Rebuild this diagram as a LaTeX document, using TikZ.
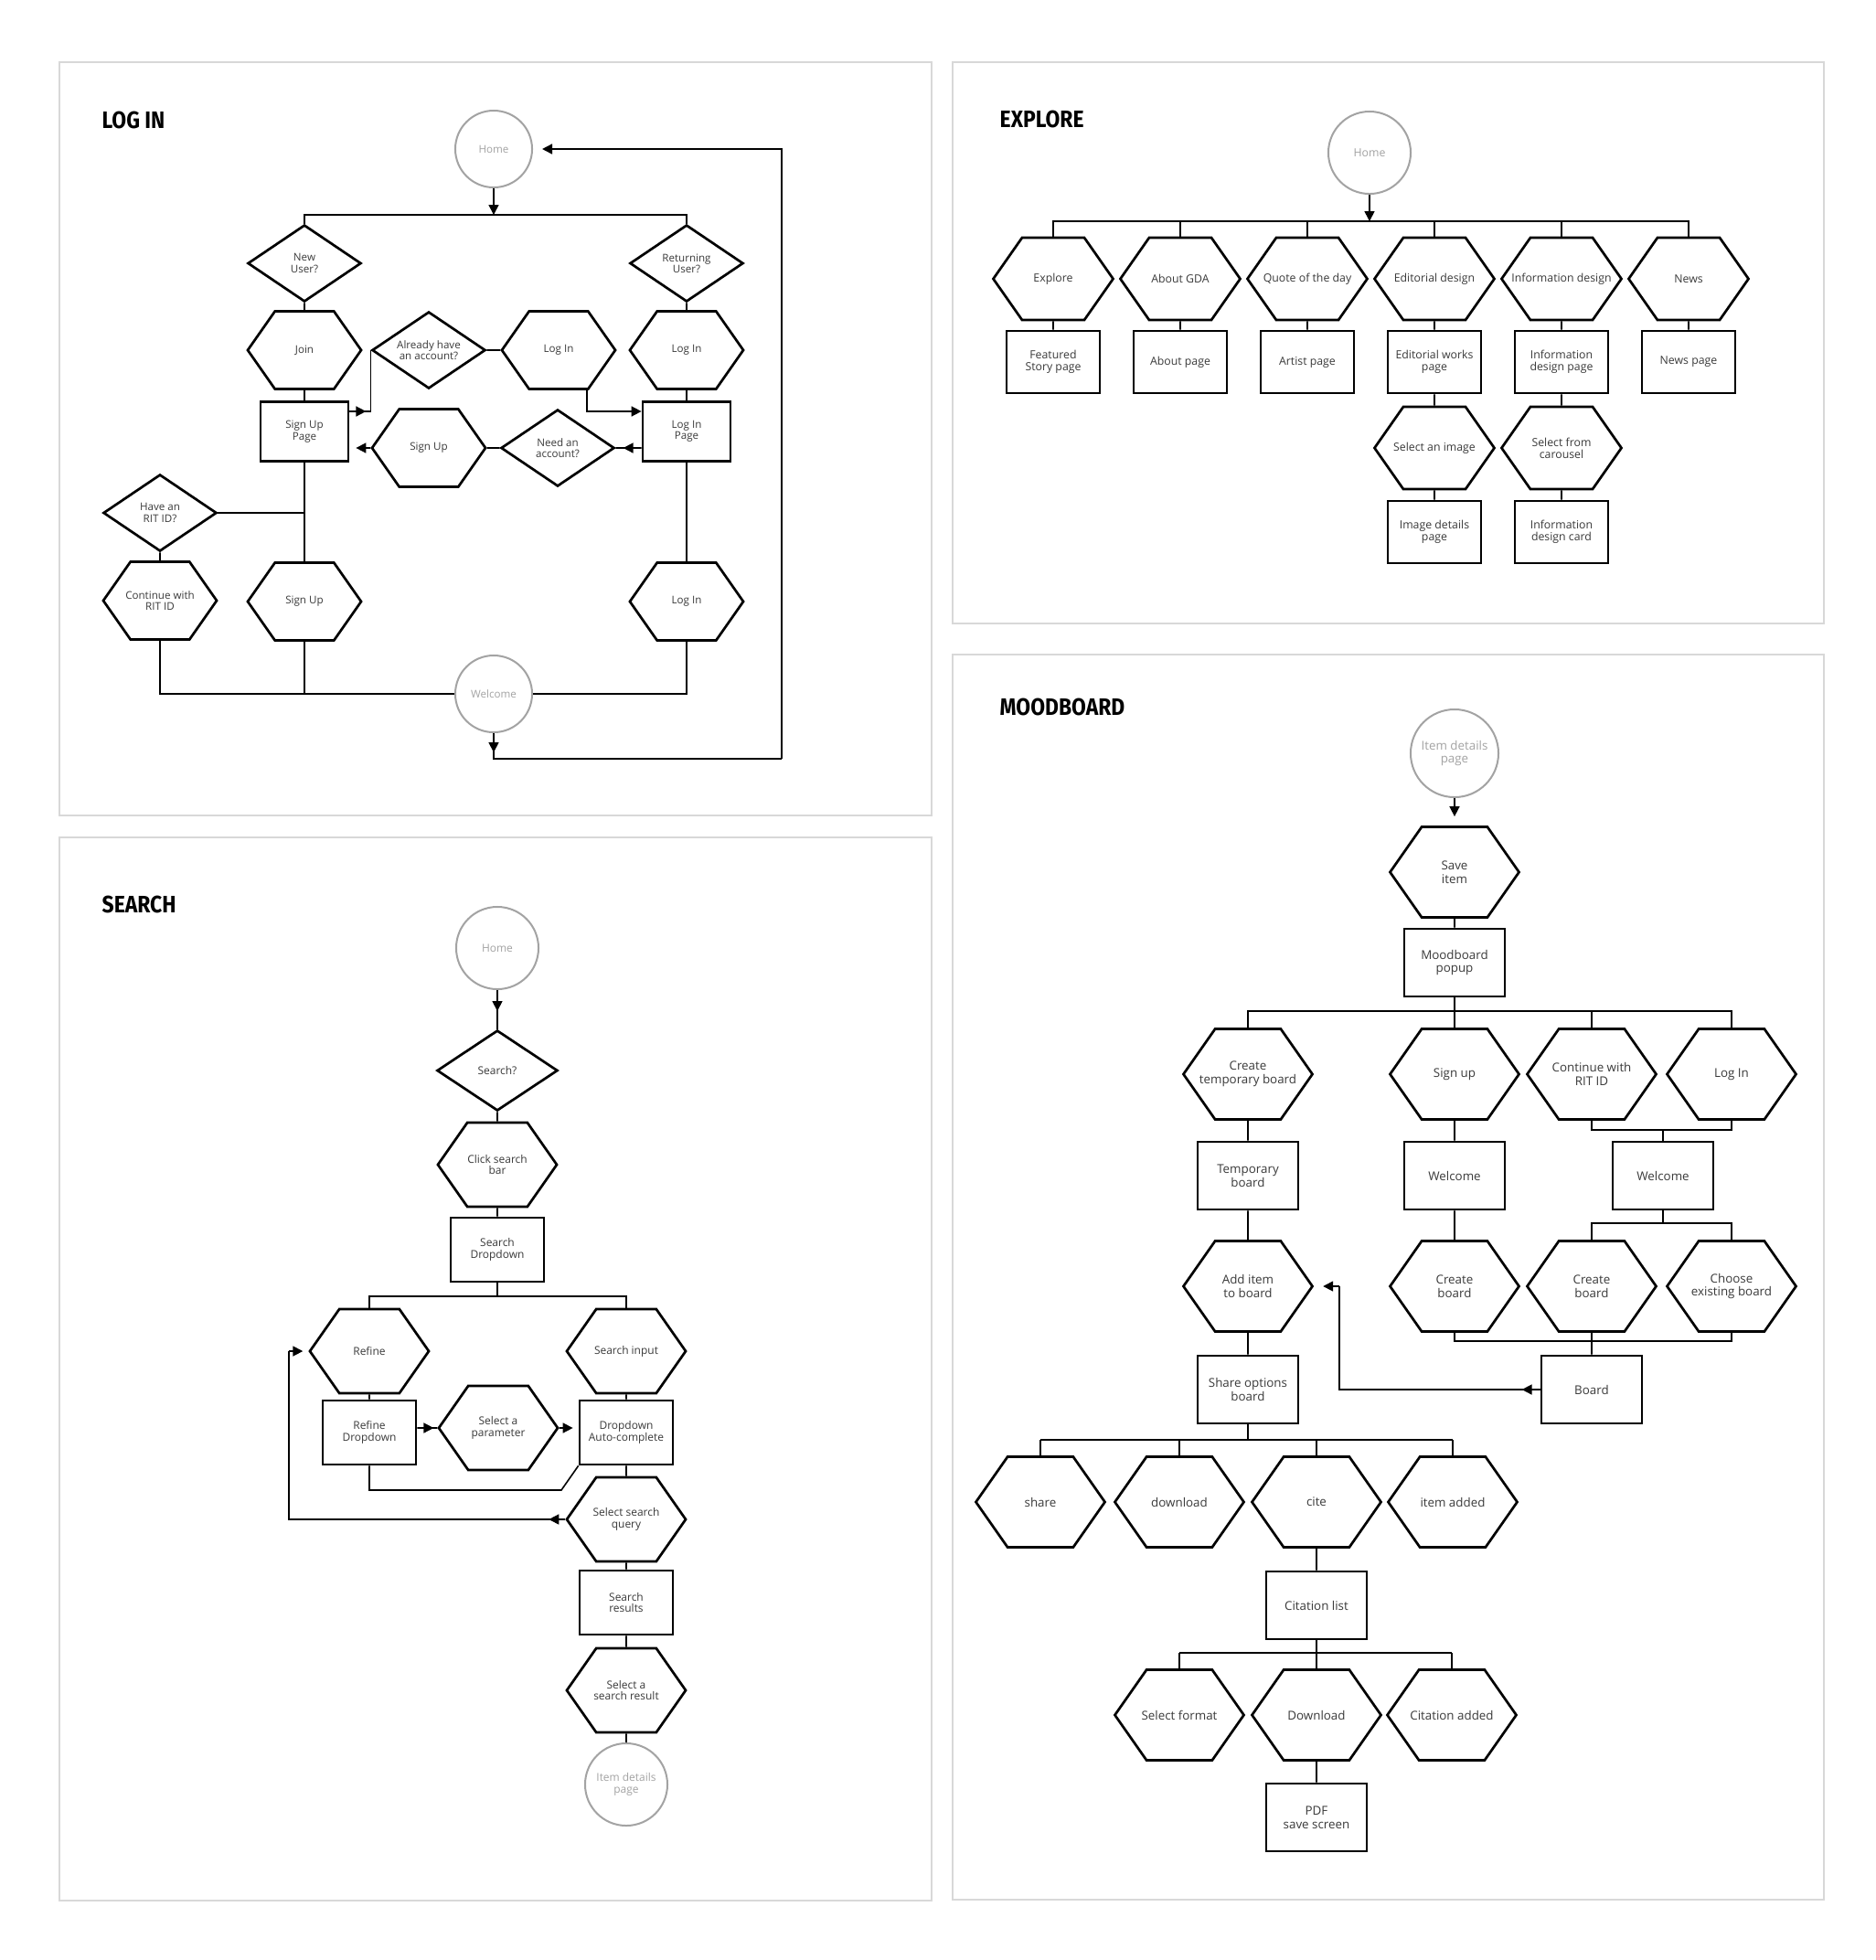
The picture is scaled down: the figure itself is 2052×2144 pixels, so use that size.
\documentclass[tikz,border=0pt]{standalone}
\usepackage{fontspec}
\setmainfont{Open Sans}
\newfontfamily\titlefont{Fira Sans}[FakeStretch=0.88]
\usepackage{tikz}
\usetikzlibrary{positioning, shapes.geometric, shapes.symbols, arrows.meta, decorations.markings}
\definecolor{framegray}{HTML}{D8D8D8}
\definecolor{ink}{HTML}{3A3A3A}
\definecolor{soft}{HTML}{A3A3A3}

\begin{document}
\begin{tikzpicture}[
    x=0.01cm, y=-0.01cm,
    every node/.style={font=\fontsize{3.3}{3.5}\selectfont, text=ink},
    hx/.style={signal, signal to=east and west, signal pointer angle=110, draw, line width=0.027cm,
      minimum width=1.24cm, minimum height=0.85cm, inner ysep=0pt, inner xsep=-0.35cm, align=center},
    bx/.style={rectangle, draw, line width=0.027cm, minimum width=0.96cm, minimum height=0.65cm, inner sep=0pt, align=center},
    dm/.style={diamond, aspect=1.48, draw, line width=0.027cm, minimum width=1.24cm, minimum height=0.84cm, inner sep=0pt, align=center},
    cl/.style={circle, draw=soft, line width=0.02cm, minimum size=0.84cm, inner sep=0pt, text=soft, align=center},
    pane/.style={draw=framegray, line width=0.015cm},
    ttl/.style={anchor=west, inner sep=0pt, text=black, font=\titlefont\bfseries\fontsize{7.4}{8}\selectfont},
    wire/.style={line width=0.016cm},
    arr/.style={-{Triangle[length=0.11cm,width=0.11cm]}},
    midarr/.style={postaction={decorate}, decoration={markings, mark=at position #1 with {\arrow{Triangle[length=0.11cm,width=0.11cm]}}}},
  ]
  \fill[white] (0,0) rectangle (2052,2144);
  \useasboundingbox (0,0) rectangle (2052,2144);

  % log in
  \draw[pane] (65,68) rectangle (1019,892);
  \node[ttl] (t1) at (111,131) {LOG IN};
  \node[cl] (home1) at (540,163) {Home};
  \node[dm] (newu) at (333,288) {New\\User?};
  \node[dm] (retu) at (751,288) {Returning\\User?};
  \node[hx] (join) at (333,383) {Join};
  \node[dm] (have) at (469,383) {Already have\\an account?};
  \node[hx] (login1) at (611,383) {Log In};
  \node[hx] (login2) at (751,383) {Log In};
  \node[bx] (supage) at (333,472) {Sign Up\\Page};
  \node[bx] (lipage) at (751,472) {Log In\\Page};
  \node[hx] (signup1) at (469,490) {Sign Up};
  \node[dm] (need) at (610,490) {Need an\\account?};
  \node[dm] (rit) at (175,561) {Have an\\RIT ID?};
  \node[hx] (cont) at (175,657) {Continue with\\RIT ID};
  \node[hx] (signup2) at (333,658) {Sign Up};
  \node[hx] (login3) at (751,658) {Log In};
  \node[cl] (welc) at (540,759) {Welcome};
  \coordinate (b1) at (540,235);
  \coordinate (lp) at (855,830);
  \draw[wire,arr] (home1) -- (b1);
  \draw[wire] (newu.north) |- (b1) -| (retu.north);
  \draw[wire] (newu) -- (join);
  \draw[wire] (join) -- (supage);
  \draw[wire] (retu) -- (login2);
  \draw[wire] (login2) -- (lipage);
  \draw[wire] (have) -- (login1);
  \draw[wire] (need) -- (signup1);
  \draw[wire,midarr=0.18cm] ([yshift=0.22cm]supage.east) -| (have.west);
  \draw[wire,arr] ([xshift=0.31cm]login1.south) |- ([yshift=0.22cm]lipage.west);
  \draw[wire,midarr=0.2cm] ([yshift=-0.18cm]lipage.west) -- (need.east);
  \draw[wire,arr,shorten >=0.07cm] (signup1.west) -- ([yshift=-0.18cm]supage.east);
  \draw[wire] (supage) -- (signup2);
  \draw[wire] (rit.east) -- (rit.east -| supage.south);
  \draw[wire] (rit) -- (cont);
  \draw[wire] (lipage) -- (login3);
  \draw[wire] (cont.south) |- (welc.west);
  \draw[wire] (signup2.south) -- (signup2.south |- welc.west);
  \draw[wire] (login3.south) |- (welc.east);
  \draw[wire,midarr=0.21cm] (welc.south) |- (lp);
  \draw[wire,arr,shorten >=0.1cm] (lp) |- (home1.east);

  % explore
  \begin{scope}[every node/.append style={font=\fontsize{3.5}{3.7}\selectfont},
      hx/.append style={minimum width=1.31cm, minimum height=0.9cm},
      bx/.append style={minimum width=1.02cm, minimum height=0.68cm},
      cl/.append style={minimum size=0.9cm}]
    \draw[pane] (1042,68) rectangle (1995,682);
    \node[ttl] (t2) at (1093,130) {EXPLORE};
    \node[cl] (home2) at (1498,167) {Home};
    \coordinate (b3) at (1498,242);
    \draw[wire,arr] (home2) -- (b3);
    \foreach \i/\x/\a/\b in {1/1152/Explore/{Featured\\Story page}, 2/1291/About GDA/About page,
        3/1430/Quote of the day/Artist page, 4/1569/Editorial design/{Editorial works\\page},
        5/1708/Information design/{Information\\design page}, 6/1847/News/News page}{
      \node[hx] (e\i) at (\x,305) {\a};
      \node[bx] (p\i) at (\x,396) {\b};
      \draw[wire] (e\i) -- (p\i);
      \draw[wire] (e\i.north) |- (b3);
    }
    \node[hx] (s4) at (1569,490) {Select an image};
    \node[bx] (d4) at (1569,582) {Image details\\page};
    \node[hx] (s5) at (1708,490) {Select from\\carousel};
    \node[bx] (d5) at (1708,582) {Information\\design card};
    \draw[wire] (p4) -- (s4);
    \draw[wire] (s4) -- (d4);
    \draw[wire] (p5) -- (s5);
    \draw[wire] (s5) -- (d5);
  \end{scope}

  % search
  \begin{scope}[every node/.append style={font=\fontsize{3.4}{3.6}\selectfont},
      hx/.append style={minimum width=1.3cm, minimum height=0.92cm},
      bx/.append style={minimum width=1.02cm, minimum height=0.7cm},
      dm/.append style={minimum width=1.32cm, minimum height=0.88cm},
      cl/.append style={minimum size=0.9cm}]
    \draw[pane] (65,916) rectangle (1019,2079);
    \node[ttl] (t3) at (111,989) {SEARCH};
    \node[cl] (home3) at (544,1037) {Home};
    \node[dm] (srch) at (544,1171) {Search?};
    \node[hx] (click) at (544,1274) {Click search\\bar};
    \node[bx] (sdd) at (544,1367) {Search\\Dropdown};
    \node[hx] (refine) at (404,1478) {Refine};
    \node[hx] (sinput) at (685,1478) {Search input};
    \node[bx] (rdd) at (404,1567) {Refine\\Dropdown};
    \node[hx] (param) at (545,1562) {Select a\\parameter};
    \node[bx] (auto) at (685,1567) {Dropdown\\Auto-complete};
    \node[hx] (query) at (685,1662) {Select search\\query};
    \node[bx] (results) at (685,1753) {Search\\results};
    \node[hx] (pick) at (685,1849) {Select a\\search result};
    \node[cl] (item1) at (685,1952) {Item details\\page};
    \coordinate (b4) at (544,1418);
    \coordinate (lr) at (614,1630);
    \coordinate (lq) at (316,1478);
    \draw[wire,midarr=0.23cm] (home3) -- (srch);
    \draw[wire] (srch) -- (click);
    \draw[wire] (click) -- (sdd);
    \draw[wire] (sdd) -- (b4);
    \draw[wire] (refine.north) |- (b4) -| (sinput.north);
    \draw[wire] (refine) -- (rdd);
    \draw[wire] (sinput) -- (auto);
    \draw[wire,midarr=0.18cm] ([yshift=0.05cm]rdd.east) -- (param.west);
    \draw[wire,arr,shorten >=0.06cm] (param.east) -- ([yshift=0.05cm]auto.west);
    \draw[wire] (rdd.south) |- (lr) -- (auto.south west);
    \draw[wire] (auto) -- (query);
    \draw[wire,midarr=0.18cm] (query.west) -| (lq);
    \draw[wire,arr,shorten >=0.06cm] (lq) -- (refine.west);
    \draw[wire] (query) -- (results);
    \draw[wire] (results) -- (pick);
    \draw[wire] (pick) -- (item1);
  \end{scope}

  % moodboard
  \begin{scope}[every node/.append style={font=\fontsize{3.8}{4.2}\selectfont},
      hx/.append style={minimum width=1.41cm, minimum height=0.99cm},
      bx/.append style={minimum width=1.1cm, minimum height=0.74cm},
      cl/.append style={minimum size=0.96cm}]
    \draw[pane] (1042,716) rectangle (1995,2078);
    \node[ttl] (t4) at (1093,773) {MOODBOARD};
    \node[cl] (item2) at (1591,824) {Item details\\page};
    \node[hx] (save) at (1591,954) {Save\\item};
    \node[bx] (popup) at (1591,1053) {Moodboard\\popup};
    \node[hx] (temp) at (1365,1175) {Create\\temporary board};
    \node[hx] (sign) at (1591,1175) {Sign up};
    \node[hx] (ritc) at (1741,1175) {Continue with\\RIT ID};
    \node[hx] (logm) at (1894,1175) {Log In};
    \node[bx] (tboard) at (1365,1286) {Temporary\\board};
    \node[bx] (welc1) at (1591,1286) {Welcome};
    \node[bx] (welc2) at (1819,1286) {Welcome};
    \node[hx] (add) at (1365,1407) {Add item\\to board};
    \node[hx] (cb1) at (1591,1407) {Create\\board};
    \node[hx] (cb2) at (1741,1407) {Create\\board};
    \node[hx] (choose) at (1894,1407) {Choose\\existing board};
    \node[bx] (share) at (1365,1520) {Share options\\board};
    \node[bx] (board) at (1741,1520) {Board};
    \node[bx] (cite) at (1440,1756) {Citation list};
    \node[bx] (pdf) at (1440,1988) {PDF\\save screen};
    \coordinate (b5) at (1591,1106);
    \coordinate (j1) at (1819,1236);
    \coordinate (j2) at (1819,1338);
    \coordinate (j3) at (1741,1467);
    \coordinate (lb) at (1465,1407);
    \coordinate (b6) at (1365,1575);
    \coordinate (b7) at (1440,1808);
    \draw[wire,arr,shorten >=0.1cm] (item2) -- (save);
    \draw[wire] (save) -- (popup);
    \draw[wire] (popup) -- (b5);
    \draw[wire] (temp.north) |- (b5) -| (logm.north);
    \draw[wire] (sign) -- (b5);
    \draw[wire] (ritc.north) -- (ritc.north |- b5);
    \draw[wire] (temp) -- (tboard);
    \draw[wire] (tboard) -- (add);
    \draw[wire] (add) -- (share);
    \draw[wire] (sign) -- (welc1);
    \draw[wire] (welc1) -- (cb1);
    \draw[wire] (ritc.south) |- (j1) -| (logm.south);
    \draw[wire] (j1) -- (welc2);
    \draw[wire] (welc2) -- (j2);
    \draw[wire] (cb2.north) |- (j2) -| (choose.north);
    \draw[wire] (cb1.south) |- (j3) -| (choose.south);
    \draw[wire] (cb2) -- (board);
    \draw[wire,midarr=0.2cm] (board.west) -| (lb);
    \draw[wire,arr,shorten >=0.1cm] (lb) -- (add.east);
    \foreach \i/\x/\t in {1/1138/share, 2/1290/download, 3/1440/cite, 4/1589/item added}{
      \node[hx] (o\i) at (\x,1643) {\t};
      \draw[wire] (o\i.north) -- (o\i.north |- b6);
    }
    \draw[wire] (o1.north |- b6) -- (o4.north |- b6);
    \draw[wire] (share) -- (b6);
    \draw[wire] (o3) -- (cite);
    \foreach \i/\x/\t in {1/1290/Select format, 2/1440/Download, 3/1588/Citation added}{
      \node[hx] (f\i) at (\x,1876) {\t};
      \draw[wire] (f\i.north) -- (f\i.north |- b7);
    }
    \draw[wire] (f1.north |- b7) -- (f3.north |- b7);
    \draw[wire] (cite) -- (b7);
    \draw[wire] (f2) -- (pdf);
  \end{scope}
\end{tikzpicture}
\end{document}
